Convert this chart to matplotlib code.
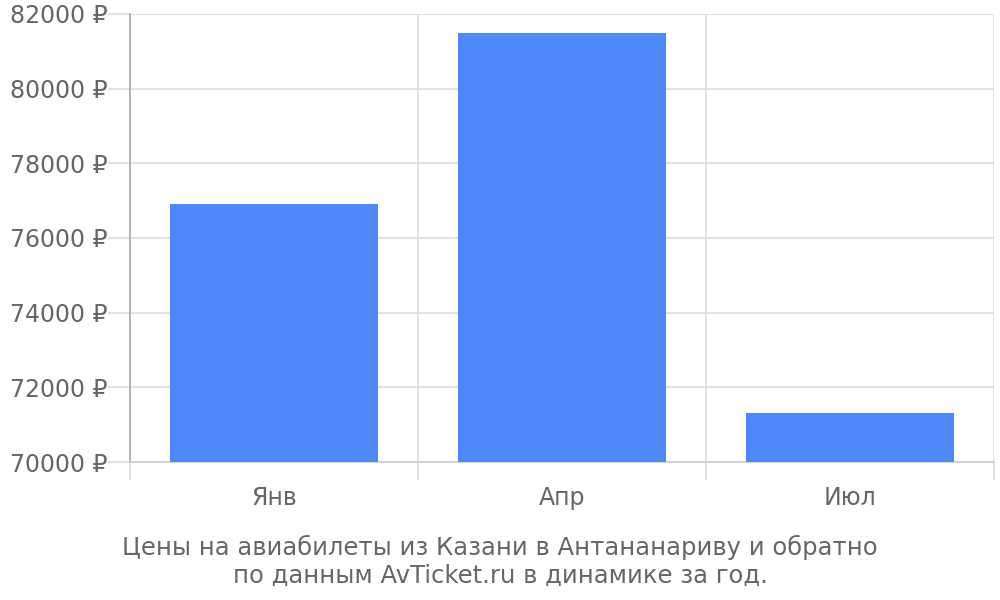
import matplotlib.pyplot as plt
import numpy as np

months = ["Янв", "Апр", "Июл"]
prices = [76900, 81500, 71300]
yticks = [70000, 72000, 74000, 76000, 78000, 80000, 82000]
title = "Цены на авиабилеты из Казани в Антананариву и обратно\nпо данным AvTicket.ru в динамике за год."

fig = plt.figure(figsize=(10, 6), dpi=100)
ax = fig.add_axes([0.13, 0.23, 0.864, 0.7467])

x = np.arange(len(months))
ax.bar(x, [p - yticks[0] for p in prices], bottom=yticks[0], width=0.72,
       color="#4d89f9", zorder=3)

ax.set_xlim(-0.5, len(months) - 0.5)
ax.set_ylim(yticks[0], yticks[-1])
ax.set_yticks(yticks)
ax.set_yticklabels([f"{v} ₽" for v in yticks])
ax.set_xticks(x)
ax.set_xticklabels(months)
ax.set_xticks(np.arange(len(months) + 1) - 0.5, minor=True)

ax.grid(True, axis="y", color="#dddddd", linewidth=1.2, zorder=0)
ax.grid(True, axis="x", which="minor", color="#dddddd", linewidth=1.2, zorder=0)
ax.tick_params(axis="y", length=16, color="#dddddd", width=1.2,
               labelsize=17, labelcolor="#666666", pad=0)
ax.tick_params(axis="x", which="major", length=0, labelsize=17,
               labelcolor="#666666", pad=17)
ax.tick_params(axis="x", which="minor", length=13, color="#dddddd", width=1.2)

for s in ["top", "right"]:
    ax.spines[s].set_visible(False)
ax.spines["left"].set_color("#aaaaaa")
ax.spines["left"].set_linewidth(1.2)
ax.spines["bottom"].set_color("#cccccc")
ax.spines["bottom"].set_linewidth(1.2)

fig.text(0.5, 0.065, title, ha="center", va="center", fontsize=17.5,
         color="#666666", linespacing=1.2)

fig.savefig("out.png", dpi=100)
